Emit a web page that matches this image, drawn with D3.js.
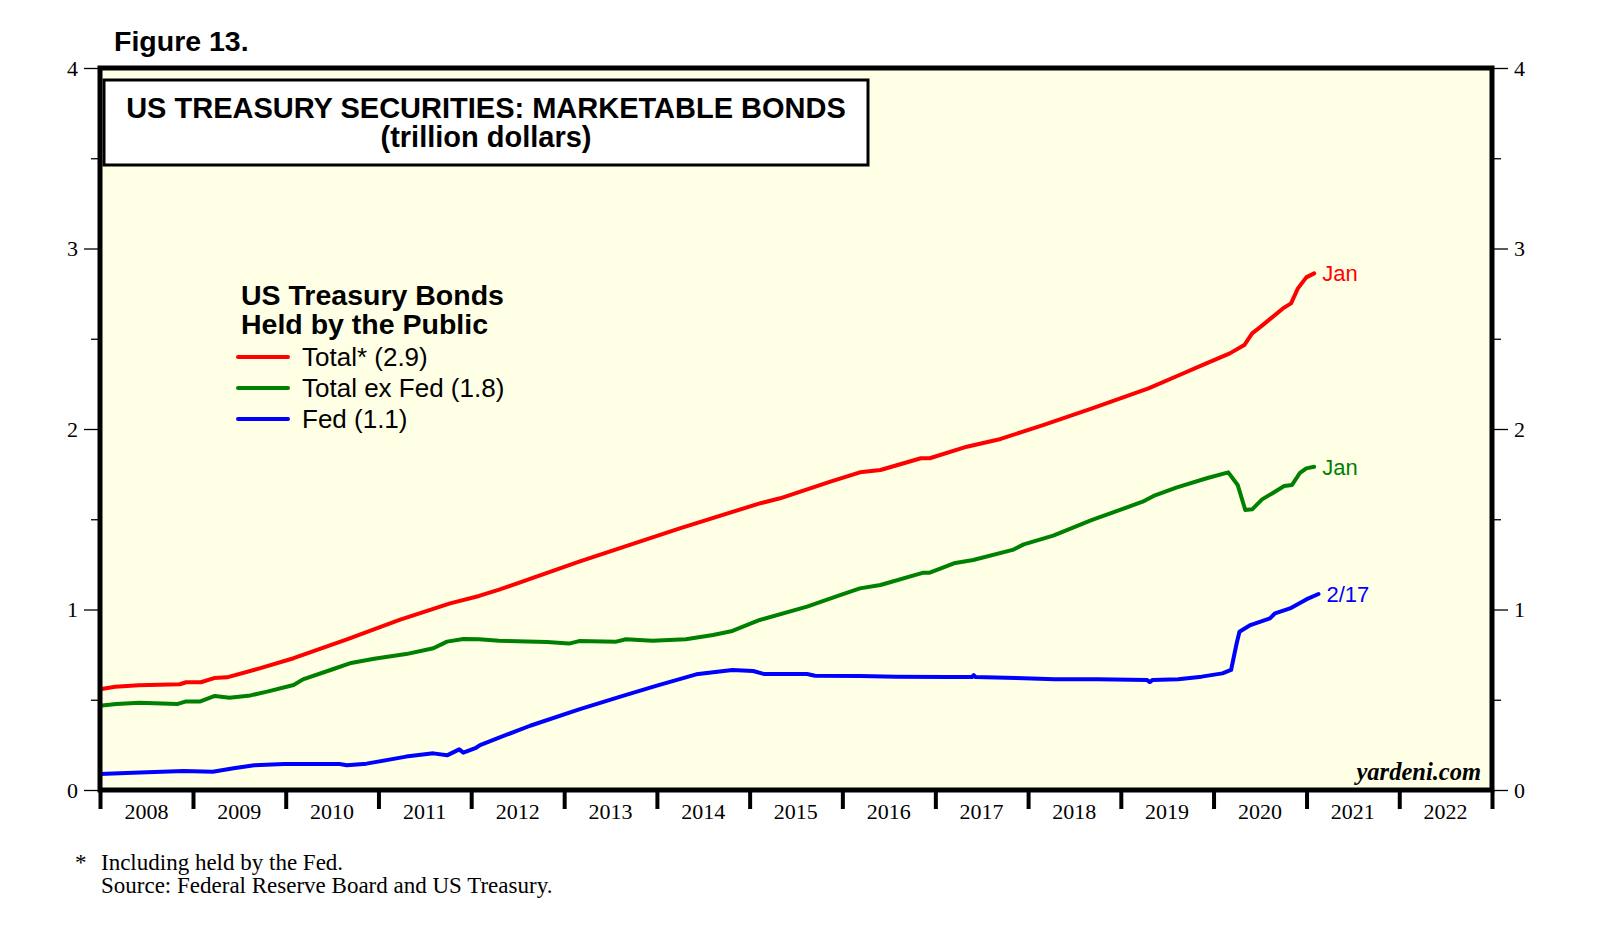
<!DOCTYPE html>
<html>
<head>
<meta charset="utf-8">
<script src="https://cdn.jsdelivr.net/npm/d3@7"></script>
<style>
  body { margin: 0; background: #fff; }
</style>
</head>
<body>
<div id="chart"></div>
<script>
// Total held by the public (monthly), trillion dollars
var totalDates = ["2008-01-01", "2008-03-01", "2008-06-01", "2008-11-10", "2008-12-05", "2009-02-01",
  "2009-03-25", "2009-05-15", "2009-09-20", "2010-02-01", "2010-08-30", "2011-03-25", "2011-10-10",
  "2012-02-01", "2012-04-20", "2013-03-01", "2014-04-01", "2015-02-10", "2015-05-01", "2015-11-15",
  "2016-03-10", "2016-05-30", "2016-11-05", "2016-12-10", "2017-05-05", "2017-09-15", "2018-03-01",
  "2018-09-10", "2019-04-20", "2019-08-20", "2019-11-20", "2020-03-05", "2020-05-01", "2020-06-01",
  "2020-07-05", "2020-09-30", "2020-11-01", "2020-11-28", "2020-12-31", "2021-01-31"];
var totalValues = [0.558, 0.572, 0.580, 0.586, 0.597, 0.597,
  0.620, 0.624, 0.674, 0.730, 0.835, 0.942, 1.034,
  1.075, 1.110, 1.265, 1.450, 1.588, 1.616, 1.708,
  1.760, 1.773, 1.838, 1.838, 1.902, 1.945, 2.022,
  2.114, 2.225, 2.299, 2.355, 2.419, 2.465, 2.530,
  2.567, 2.668, 2.696, 2.779, 2.840, 2.862];

// Total ex Fed
var exFedDates = ["2008-01-01", "2008-03-05", "2008-06-05", "2008-10-30", "2008-12-05", "2009-01-30",
  "2009-03-28", "2009-05-25", "2009-08-15", "2009-10-20", "2010-02-01", "2010-03-10", "2010-07-05",
  "2010-09-10", "2010-12-15", "2011-04-20", "2011-08-05", "2011-09-28", "2011-12-01", "2012-02-01",
  "2012-04-20", "2012-10-25", "2013-01-20", "2013-03-01", "2013-07-25", "2013-09-01", "2013-12-15",
  "2014-04-25", "2014-08-10", "2014-10-25", "2015-02-10", "2015-08-15", "2015-12-20", "2016-03-10",
  "2016-05-30", "2016-11-15", "2016-12-10", "2017-03-15", "2017-05-30", "2017-11-01", "2017-12-15",
  "2018-04-10", "2018-09-10", "2019-03-28", "2019-05-10", "2019-08-10", "2019-12-05", "2020-02-28",
  "2020-04-05", "2020-05-05", "2020-06-01", "2020-07-10", "2020-08-20", "2020-10-05", "2020-11-05",
  "2020-12-05", "2020-12-31", "2021-01-31"];
var exFedValues = [0.467, 0.476, 0.484, 0.476, 0.491, 0.491,
  0.521, 0.511, 0.524, 0.545, 0.582, 0.613, 0.669,
  0.702, 0.727, 0.753, 0.785, 0.822, 0.837, 0.835,
  0.827, 0.820, 0.811, 0.825, 0.822, 0.835, 0.827,
  0.835, 0.859, 0.881, 0.942, 1.016, 1.078, 1.117,
  1.136, 1.204, 1.204, 1.256, 1.274, 1.330, 1.361,
  1.409, 1.496, 1.597, 1.629, 1.677, 1.727, 1.760,
  1.690, 1.551, 1.555, 1.610, 1.644, 1.684, 1.690,
  1.755, 1.782, 1.791];

// Fed holdings (weekly)
var fedDates = ["2008-01-01", "2008-05-10", "2008-11-25", "2009-03-20", "2009-06-10", "2009-08-30",
  "2009-12-25", "2010-08-01", "2010-08-30", "2010-11-15", "2011-04-20", "2011-08-05", "2011-09-28",
  "2011-11-15", "2011-12-01", "2012-01-20", "2012-02-05", "2012-04-20", "2012-08-20", "2013-03-01",
  "2013-08-20", "2014-01-01", "2014-06-05", "2014-10-25", "2015-01-15", "2015-02-25", "2015-08-15",
  "2015-09-15", "2016-03-10", "2016-08-01", "2017-02-15", "2017-05-25", "2017-06-01", "2017-06-08",
  "2017-11-15", "2018-04-15", "2018-10-01", "2019-04-15", "2019-04-25", "2019-05-05", "2019-08-15",
  "2019-11-15", "2020-02-05", "2020-03-10", "2020-04-01", "2020-04-12", "2020-05-25", "2020-08-10",
  "2020-08-30", "2020-10-28", "2020-12-31", "2021-02-17"];
var fedValues = [0.089, 0.096, 0.105, 0.101, 0.120, 0.137,
  0.144, 0.144, 0.137, 0.146, 0.185, 0.203, 0.192,
  0.225, 0.207, 0.234, 0.249, 0.290, 0.356, 0.447,
  0.521, 0.578, 0.641, 0.665, 0.659, 0.643, 0.643,
  0.633, 0.631, 0.628, 0.626, 0.626, 0.636, 0.626,
  0.620, 0.613, 0.613, 0.609, 0.598, 0.609, 0.613,
  0.628, 0.646, 0.665, 0.813, 0.877, 0.914, 0.951,
  0.979, 1.006, 1.056, 1.086];

var yearLabels = ["2008", "2009", "2010", "2011", "2012", "2013", "2014", "2015",
  "2016", "2017", "2018", "2019", "2020", "2021", "2022"];
var yTicks = [0, 1, 2, 3, 4];
var yMinorTicks = [0.5, 1.5, 2.5, 3.5];

var seriesNames = ["Total* (2.9)", "Total ex Fed (1.8)", "Fed (1.1)"];
var seriesColors = ["#ff0000", "#008000", "#0000ff"];
var endLabels = ["Jan", "Jan", "2/17"];

// Chart dimensions
var W = 1610, H = 943;
var margin = { top: 68, right: 118, bottom: 153, left: 100 };
var width = W - margin.left - margin.right;
var height = H - margin.top - margin.bottom;

var parse = d3.timeParse("%Y-%m-%d");
var sans = "'Liberation Sans', Arial, sans-serif";
var serif = "'Liberation Serif', 'Times New Roman', serif";

var svg = d3
  .select("#chart")
  .append("svg")
  .attr("width", W)
  .attr("height", H)
  .style("background", "#fff");

// Scales
var x = d3
  .scaleTime()
  .domain([new Date(2008, 0, 1), new Date(2023, 0, 1)])
  .range([margin.left, margin.left + width]);
var y = d3
  .scaleLinear()
  .domain([0, 4])
  .range([margin.top + height, margin.top]);

// Plot background
svg
  .append("rect")
  .attr("x", margin.left)
  .attr("y", margin.top)
  .attr("width", width)
  .attr("height", height)
  .attr("fill", "#ffffe6");

// Build the series
function makeSeries(dates, values) {
  return dates.map(function (d, i) {
    return { date: parse(d), value: values[i] };
  });
}
var series = [
  makeSeries(totalDates, totalValues),
  makeSeries(exFedDates, exFedValues),
  makeSeries(fedDates, fedValues),
];

var line = d3
  .line()
  .x(function (d) {
    return x(d.date);
  })
  .y(function (d) {
    return y(d.value);
  });

series.forEach(function (s, i) {
  svg
    .append("path")
    .datum(s)
    .attr("fill", "none")
    .attr("stroke", seriesColors[i])
    .attr("stroke-width", 4)
    .attr("stroke-linejoin", "round")
    .attr("stroke-linecap", "round")
    .attr("d", line);

  // end label
  var last = s[s.length - 1];
  svg
    .append("text")
    .attr("x", x(last.date) + 8)
    .attr("y", y(last.value) + 8)
    .attr("fill", seriesColors[i])
    .style("font-family", sans)
    .style("font-size", "22px")
    .text(endLabels[i]);
});

// Left and right axes
function yAxis(side) {
  var major = (side == "left" ? d3.axisLeft(y) : d3.axisRight(y))
    .tickValues(yTicks)
    .tickSize(16)
    .tickPadding(6)
    .tickFormat(d3.format("d"));
  var g = svg
    .append("g")
    .attr("transform", "translate(" + (side == "left" ? margin.left : margin.left + width) + ",0)")
    .call(major);
  g.select(".domain").remove();
  g.selectAll("line").attr("stroke", "#000").attr("stroke-width", 1.3);
  g.selectAll("text")
    .style("font-family", serif)
    .style("font-size", "22px")
    .attr("fill", "#000");

  var minor = (side == "left" ? d3.axisLeft(y) : d3.axisRight(y))
    .tickValues(yMinorTicks)
    .tickSize(9)
    .tickFormat("");
  var g2 = svg
    .append("g")
    .attr("transform", "translate(" + (side == "left" ? margin.left : margin.left + width) + ",0)")
    .call(minor);
  g2.select(".domain").remove();
  g2.selectAll("line").attr("stroke", "#000").attr("stroke-width", 1.3);
}
yAxis("left");
yAxis("right");

// Bottom axis: year boundary ticks, labels centred within each year
var xAxis = d3
  .axisBottom(x)
  .tickValues(d3.timeYear.range(new Date(2008, 0, 1), new Date(2023, 0, 2)))
  .tickSize(19)
  .tickFormat("");
var gx = svg
  .append("g")
  .attr("transform", "translate(0," + (margin.top + height) + ")")
  .call(xAxis);
gx.select(".domain").remove();
gx.selectAll("line").attr("stroke", "#000").attr("stroke-width", 4);

svg
  .append("g")
  .selectAll("text")
  .data(yearLabels)
  .join("text")
  .attr("x", function (d) {
    return x(new Date(+d, 6, 2));
  })
  .attr("y", margin.top + height + 29)
  .attr("text-anchor", "middle")
  .style("font-family", serif)
  .style("font-size", "22px")
  .text(function (d) {
    return d;
  });

// Frame
svg
  .append("rect")
  .attr("x", margin.left)
  .attr("y", margin.top)
  .attr("width", width)
  .attr("height", height)
  .attr("fill", "none")
  .attr("stroke", "#000")
  .attr("stroke-width", 5);

// Figure label
svg
  .append("text")
  .attr("x", 114)
  .attr("y", 51)
  .style("font-family", sans)
  .style("font-weight", "bold")
  .style("font-size", "28.5px")
  .text("Figure 13.");

// Title box
svg
  .append("rect")
  .attr("x", 104)
  .attr("y", 80)
  .attr("width", 764)
  .attr("height", 85)
  .attr("fill", "#fff")
  .attr("stroke", "#000")
  .attr("stroke-width", 3);
svg
  .append("text")
  .attr("x", 486)
  .attr("y", 118)
  .attr("text-anchor", "middle")
  .style("font-family", sans)
  .style("font-weight", "bold")
  .style("font-size", "29px")
  .text("US TREASURY SECURITIES: MARKETABLE BONDS");
svg
  .append("text")
  .attr("x", 486)
  .attr("y", 147)
  .attr("text-anchor", "middle")
  .style("font-family", sans)
  .style("font-weight", "bold")
  .style("font-size", "29px")
  .text("(trillion dollars)");

// Legend
var legend = svg.append("g").attr("transform", "translate(241,0)");
legend
  .append("text")
  .attr("y", 305)
  .style("font-family", sans)
  .style("font-weight", "bold")
  .style("font-size", "28.5px")
  .text("US Treasury Bonds");
legend
  .append("text")
  .attr("y", 334)
  .style("font-family", sans)
  .style("font-weight", "bold")
  .style("font-size", "28.5px")
  .text("Held by the Public");
seriesNames.forEach(function (name, i) {
  var ly = 357 + i * 31;
  legend
    .append("line")
    .attr("x1", -3)
    .attr("x2", 47)
    .attr("y1", ly)
    .attr("y2", ly)
    .attr("stroke", seriesColors[i])
    .attr("stroke-width", 4)
    .attr("stroke-linecap", "round");
  legend
    .append("text")
    .attr("x", 61)
    .attr("y", ly + 9)
    .style("font-family", sans)
    .style("font-size", "26px")
    .text(name);
});

// Watermark
svg
  .append("text")
  .attr("x", 1481)
  .attr("y", 780)
  .attr("text-anchor", "end")
  .style("font-family", serif)
  .style("font-style", "italic")
  .style("font-weight", "bold")
  .style("font-size", "24.5px")
  .text("yardeni.com");

// Footnotes
svg
  .append("text")
  .attr("x", 75)
  .attr("y", 870)
  .style("font-family", serif)
  .style("font-size", "23px")
  .text("*");
svg
  .append("text")
  .attr("x", 101)
  .attr("y", 870)
  .style("font-family", serif)
  .style("font-size", "23px")
  .text("Including held by the Fed.");
svg
  .append("text")
  .attr("x", 101)
  .attr("y", 893)
  .style("font-family", serif)
  .style("font-size", "23px")
  .text("Source: Federal Reserve Board and US Treasury.");
</script>
</body>
</html>
